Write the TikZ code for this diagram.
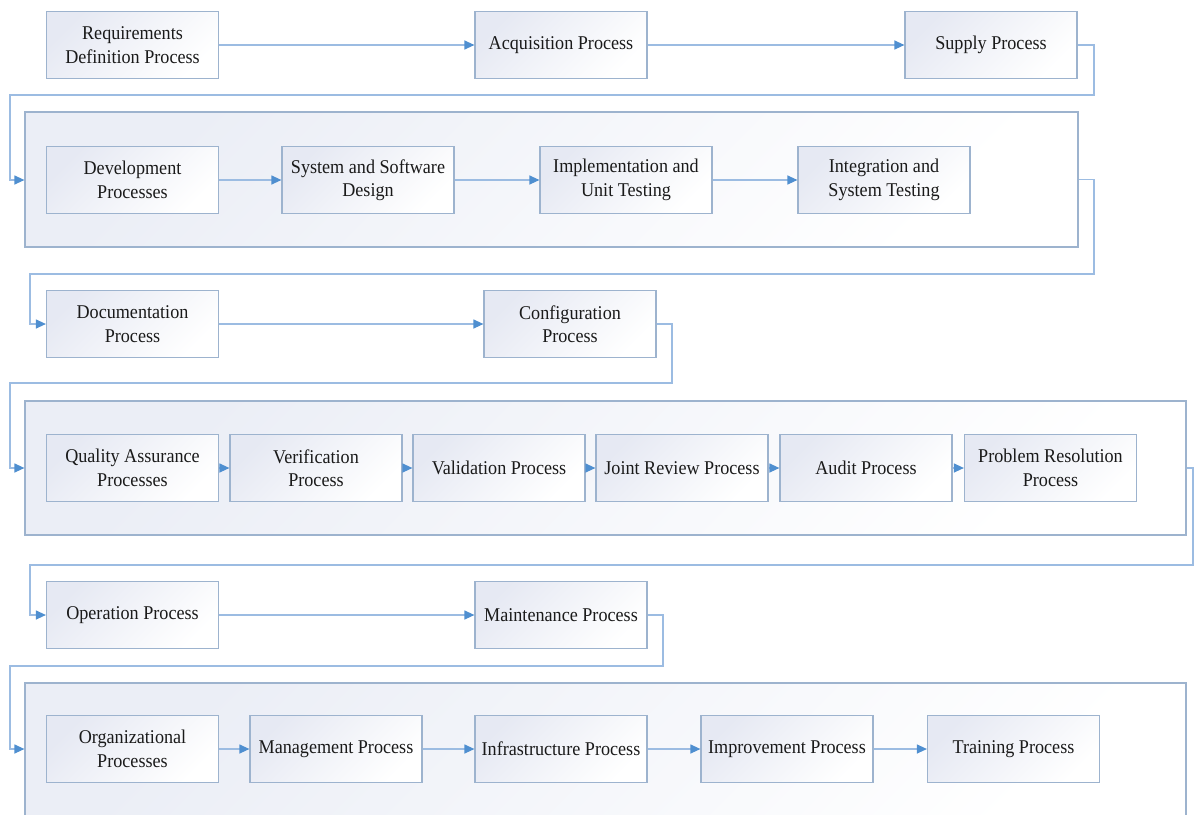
\documentclass[tikz,border=0pt]{standalone}
\usepackage{fontspec}
\setmainfont{Liberation Serif}[FakeStretch=0.93]
\usetikzlibrary{arrows.meta}
\definecolor{boxline}{HTML}{9DB3CE}
\definecolor{connline}{HTML}{9CBCE2}
\definecolor{tipc}{HTML}{4F8FD0}
\definecolor{shadec}{HTML}{E6E9F3}
\definecolor{shadeout}{HTML}{EBEEF6}
\definecolor{txt}{HTML}{1A1A1A}
\tikzset{
  pbox/.style={draw=boxline, line width=1.2pt, top color=shadec, bottom color=white, shading angle=45,
    minimum width=172pt, minimum height=67pt, inner sep=0pt, align=center,
    font=\fontsize{19.5}{23.5}\selectfont, text=txt},
  cont/.style={draw=boxline, line width=1.2pt, top color=shadeout, bottom color=white, shading angle=45, inner sep=0pt},
  conn/.style={draw=connline, line width=1.2pt, -{Triangle[length=10pt,width=9pt,color=tipc]}},
}
\begin{document}
\begin{tikzpicture}[x=1pt,y=-1pt]
\useasboundingbox[fill=white] (0,0) rectangle (1196,814);
% containers
\node[cont, minimum width=1053pt, minimum height=135pt] (c1) at (551.5,179.5) {};
\node[cont, minimum width=1161pt, minimum height=134pt] (c2) at (605.5,468) {};
\begin{scope}
\clip (0,0) rectangle (1196,814);
\node[cont, minimum width=1161pt, minimum height=147pt] (c3) at (605.5,756.5) {};
\end{scope}
% row 1
\node[pbox] (req) at (132.5,45) {Requirements\\Definition Process};
\node[pbox] (acq) at (561,45) {Acquisition Process};
\node[pbox] (sup) at (991,45) {Supply Process};
% row 2
\node[pbox] (dev) at (132.5,180) {Development\\Processes};
\node[pbox] (sys) at (368,180) {System and Software\\Design};
\node[pbox] (impl) at (626,180) {Implementation and\\Unit Testing};
\node[pbox] (integ) at (884,180) {Integration and\\System Testing};
% row 3
\node[pbox] (doc) at (132.5,324) {Documentation\\Process};
\node[pbox] (conf) at (570,324) {Configuration\\Process};
% row 4
\node[pbox] (qa) at (132.5,468) {Quality Assurance\\Processes};
\node[pbox] (ver) at (316,468) {Verification\\Process};
\node[pbox] (val) at (499,468) {Validation Process};
\node[pbox] (joint) at (682,468) {Joint Review Process};
\node[pbox] (audit) at (866,468) {Audit Process};
\node[pbox] (prob) at (1050.5,468) {Problem Resolution\\Process};
% row 5
\node[pbox] (op) at (132.5,615) {Operation Process};
\node[pbox] (maint) at (561,615) {Maintenance Process};
% row 6
\node[pbox] (org) at (132.5,749) {Organizational\\Processes};
\node[pbox] (mgmt) at (336,749) {Management Process};
\node[pbox] (infra) at (561,749) {Infrastructure Process};
\node[pbox] (impr) at (787,749) {Improvement Process};
\node[pbox] (train) at (1013.5,749) {Training Process};
% bend points
\coordinate (b1) at (1094,95);
\coordinate (b1e) at (10,180);
\coordinate (b2) at (1094,274);
\coordinate (b2e) at (30,324);
\coordinate (b3) at (672,383);
\coordinate (b3e) at (10,468);
\coordinate (b4) at (1193,565);
\coordinate (b4e) at (30,615);
\coordinate (b5) at (663,666);
\coordinate (b5e) at (10,749);
% connectors
\draw[conn] (req) -- (acq);
\draw[conn] (acq) -- (sup);
\draw[conn] (sup.east) -| (b1) -| (b1e) -- (b1e -| c1.west);
\draw[conn] (dev) -- (sys);
\draw[conn] (sys) -- (impl);
\draw[conn] (impl) -- (integ);
\draw[conn] (c1.east) -| (b2) -| (b2e) -- (doc.west);
\draw[conn] (doc) -- (conf);
\draw[conn] (conf.east) -| (b3) -| (b3e) -- (b3e -| c2.west);
\draw[conn] (qa) -- (ver);
\draw[conn] (ver) -- (val);
\draw[conn] (val) -- (joint);
\draw[conn] (joint) -- (audit);
\draw[conn] (audit) -- (prob);
\draw[conn] (c2.east) -| (b4) -| (b4e) -- (op.west);
\draw[conn] (op) -- (maint);
\draw[conn] (maint.east) -| (b5) -| (b5e) -- (b5e -| c3.west);
\draw[conn] (org) -- (mgmt);
\draw[conn] (mgmt) -- (infra);
\draw[conn] (infra) -- (impr);
\draw[conn] (impr) -- (train);
\end{tikzpicture}
\end{document}
